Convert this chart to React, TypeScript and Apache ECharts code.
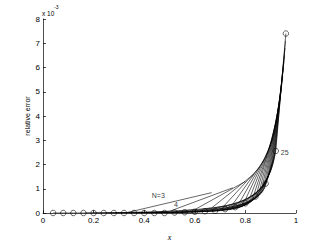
import React, { useEffect, useRef } from "react";
import * as echarts from "echarts";

// Orders N of the curves
const N_LIST = [3, 4, 5, 6, 7, 8, 9, 10, 11, 12, 13, 14, 15, 16, 17, 18, 19, 20, 21, 22, 23, 24];
// Tail values (×1e-3) of each curve at x = j/N, last value at j = N-1
const TAILS: number[][] = [
  [0.02, 0.84],
  [0, 0.07, 1.04],
  [0, 0.01, 0.14, 1.3],
  [0, 0.005, 0.03, 0.21, 1.6],
  [0, 0.01, 0.06, 0.28, 1.9],
  [0.005, 0.02, 0.1, 0.36, 2.2],
  [0.01, 0.03, 0.14, 0.45, 2.5],
  [0.015, 0.05, 0.18, 0.55, 2.8],
  [0.02, 0.07, 0.22, 0.65, 3.1],
  [0.03, 0.09, 0.27, 0.75, 3.4],
  [0.04, 0.11, 0.32, 0.86, 3.8],
  [0.05, 0.13, 0.37, 0.97, 4.1],
  [0.06, 0.16, 0.42, 1.08, 4.45],
  [0.075, 0.19, 0.48, 1.2, 4.75],
  [0.09, 0.22, 0.53, 1.33, 5.05],
  [0.11, 0.26, 0.58, 1.45, 5.35],
  [0.13, 0.3, 0.64, 1.6, 5.65],
  [0.15, 0.34, 0.7, 1.72, 5.95],
  [0.18, 0.38, 0.76, 1.87, 6.25],
  [0.21, 0.43, 0.82, 2.02, 6.5],
  [0.25, 0.5, 0.9, 2.18, 6.8],
  [0.3, 0.58, 1.0, 2.36, 7.1],
];
// N = 25 curve, marked with circles, j = 1..24
const N25 = 25;
const N25_VALUES = [0, 0, 0, 0, 0, 0, 0, 0, 0, 0, 0, 0, 0.02, 0.03, 0.05, 0.07, 0.09, 0.16, 0.24, 0.4, 0.68, 1.21, 2.56, 7.4];
// Text labels
const LABELS = [
  { name: "N=3", x: 0.43, y: 0.73 },
  { name: "4", x: 0.518, y: 0.36 },
  { name: "25", x: 0.94, y: 2.51 },
];
const X_TICKS = [0, 0.2, 0.4, 0.6, 0.8, 1];

export default function App() {
  const ref = useRef<HTMLDivElement>(null);
  useEffect(() => {
    if (!ref.current) return;
    const chart = echarts.init(ref.current, undefined, { renderer: "svg" });
    const font = "Liberation Sans";
    const series: any[] = N_LIST.map((N, i) => {
      const tail = TAILS[i];
      const start = N - tail.length;
      return {
        type: "line",
        data: tail.map((v, k) => [(start + k) / N, v]),
        symbol: "none",
        lineStyle: { color: "#000", width: 0.6 },
        silent: true,
      };
    });
    series.push({
      type: "line",
      data: N25_VALUES.map((v, k) => [(k + 1) / N25, v]),
      symbol: "circle",
      symbolSize: 5.5,
      showAllSymbol: true,
      itemStyle: { color: "rgba(0,0,0,0)", borderColor: "#000", borderWidth: 0.6 },
      lineStyle: { color: "#000", width: 0.6 },
      silent: true,
    });
    series.push({
      type: "scatter",
      data: LABELS.map((l) => ({ name: l.name, value: [l.x, l.y] })),
      symbolSize: 0,
      itemStyle: { color: "#000" },
      label: {
        show: true,
        position: "right",
        distance: 0,
        formatter: (p: any) => p.name,
        color: "#000",
        textBorderWidth: 0,
        fontSize: 7,
        fontFamily: font,
      },
      silent: true,
    });
    chart.setOption({
      animation: false,
      backgroundColor: "#fff",
      grid: { left: 43, right: 31, top: 19, bottom: 28 },
      xAxis: {
        type: "value",
        min: 0,
        max: 1,
        interval: 0.2,
        name: "x",
        nameLocation: "middle",
        nameGap: 20,
        nameMoveOverlap: false,
        nameTextStyle: { fontFamily: "Liberation Serif", fontStyle: "italic", fontSize: 8, color: "#000" },
        axisLine: { lineStyle: { color: "#000", width: 0.7 } },
        axisTick: { inside: true, length: 3, lineStyle: { color: "#000", width: 0.7 } },
        axisLabel: {
          color: "#000",
          fontSize: 8,
          fontFamily: font,
          margin: 3,
          formatter: (v: number) => {
            const t = X_TICKS.find((x) => Math.abs(x - v) < 1e-9);
            return t === undefined ? "" : String(t);
          },
        },
        splitLine: { show: false },
      },
      yAxis: {
        type: "value",
        min: 0,
        max: 8,
        interval: 1,
        name: "relative error",
        nameLocation: "middle",
        nameGap: 12,
        nameMoveOverlap: false,
        nameTextStyle: { fontFamily: font, fontSize: 7, color: "#000" },
        axisLine: { show: true, lineStyle: { color: "#000", width: 0.7 } },
        axisTick: { show: true, inside: true, length: 3, lineStyle: { color: "#000", width: 0.7 } },
        axisLabel: { color: "#000", fontSize: 8, fontFamily: font, margin: 3 },
        splitLine: { show: false },
      },
      graphic: [
        { type: "text", left: 42, top: 10, style: { text: "x 10", fontSize: 6.5, fontFamily: font, fill: "#000" } },
        { type: "text", left: 54, top: 4, style: { text: "-3", fontSize: 5, fontFamily: font, fill: "#000" } },
      ],
      series,
    });
    return () => chart.dispose();
  }, []);
  return <div ref={ref} style={{ position: "fixed", left: 0, top: 0, width: 327, height: 246 }} />;
}
